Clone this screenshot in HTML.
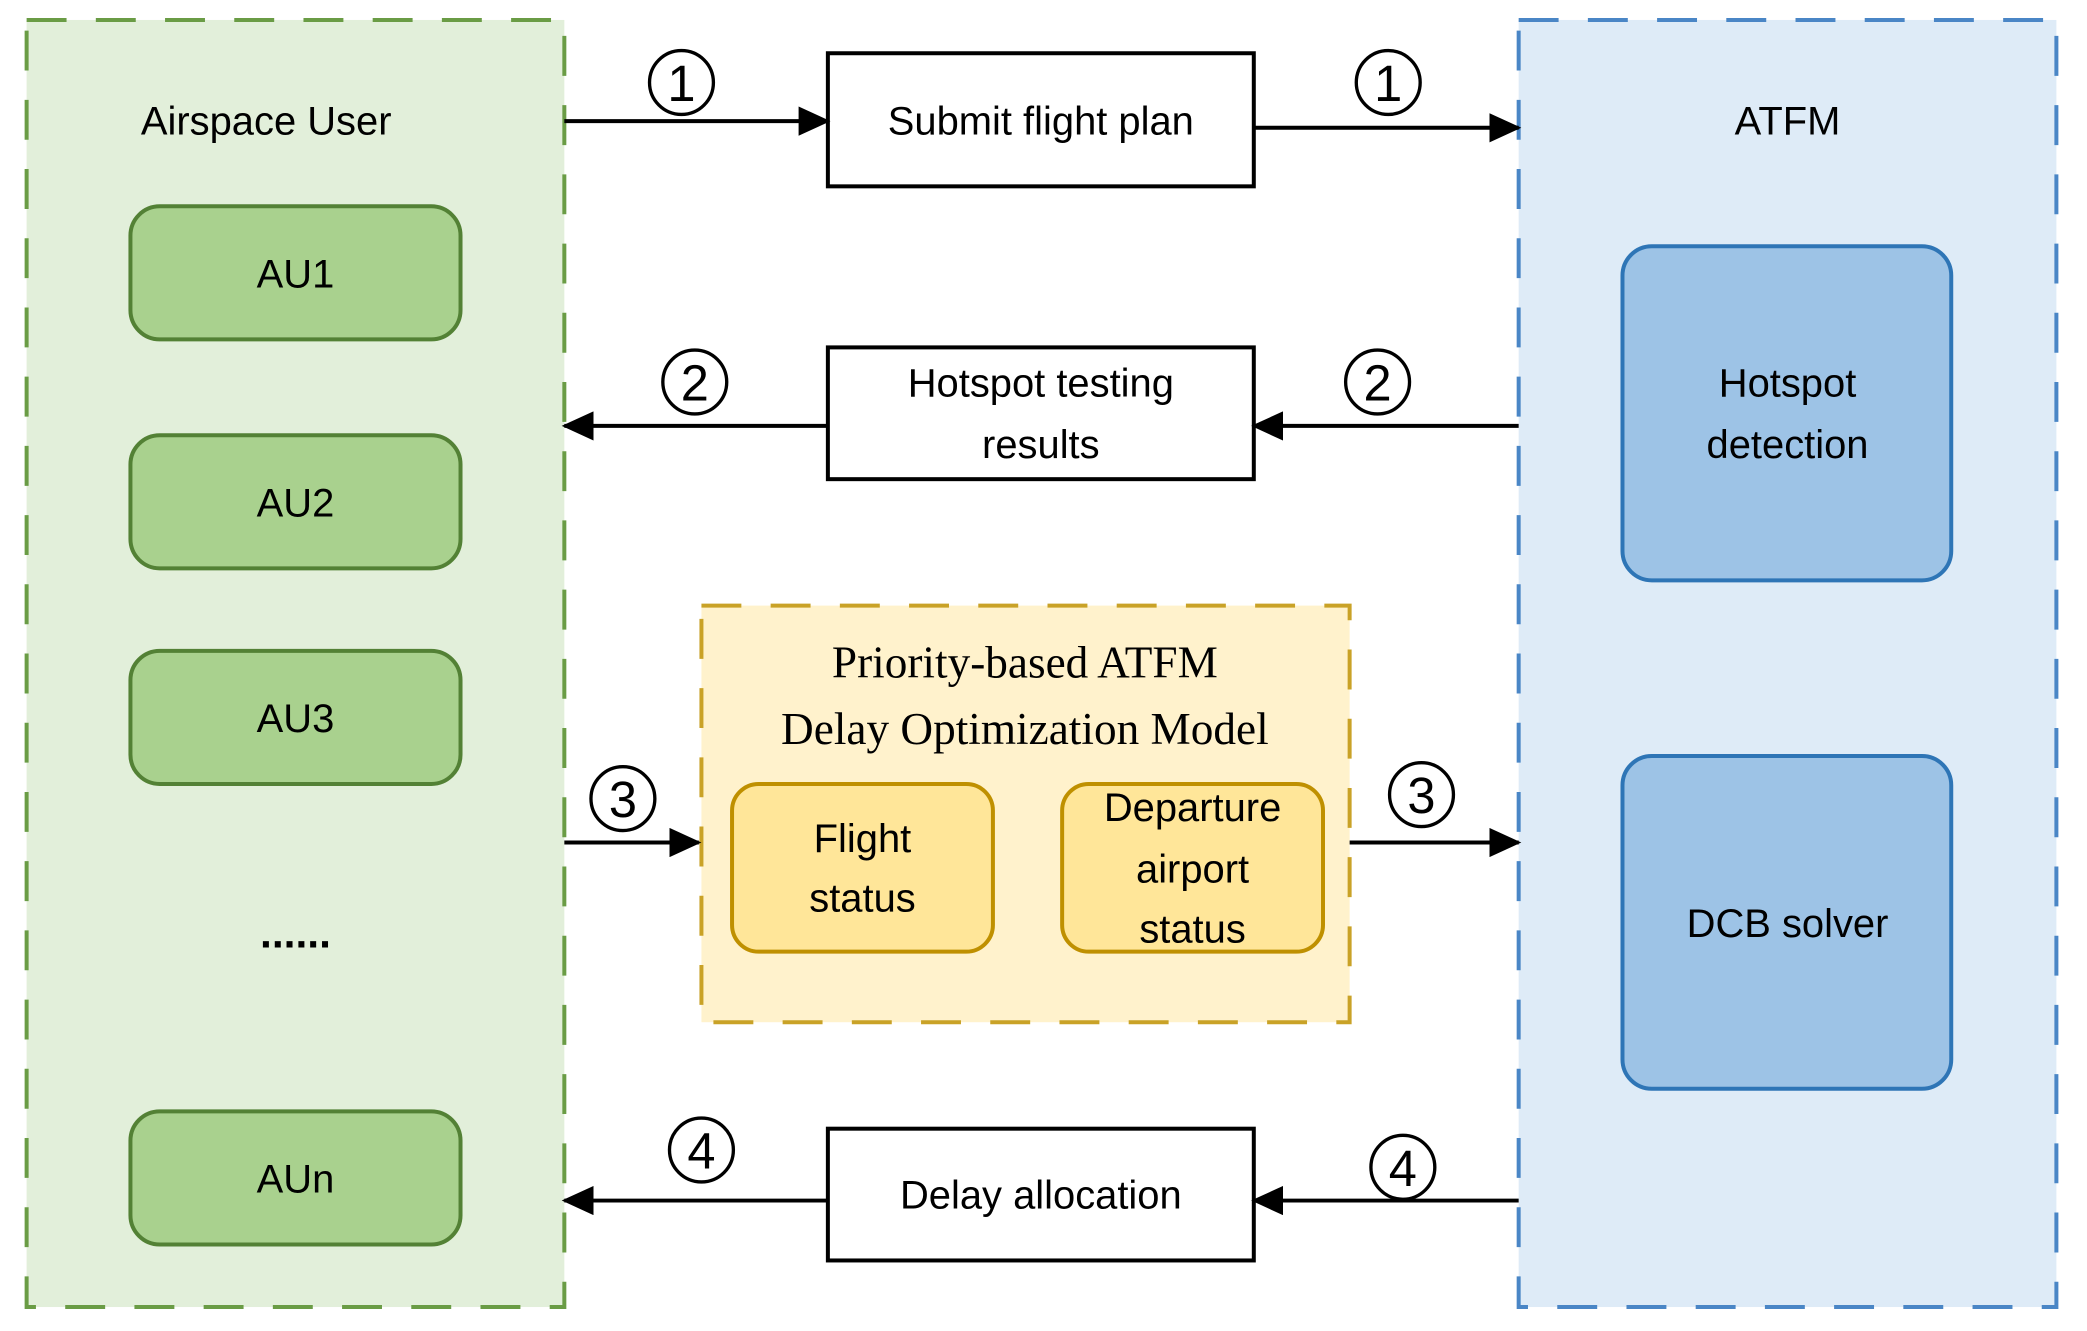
<!DOCTYPE html>
<html><head><meta charset="utf-8"><style>html,body{margin:0;padding:0;background:#fff}svg{display:block}</style></head>
<body>
<svg width="2087" height="1331" viewBox="0 0 1568 1000" preserveAspectRatio="none" xmlns="http://www.w3.org/2000/svg">
<defs>
<marker id="b" markerWidth="24" markerHeight="22" refX="22" refY="11" orient="auto" markerUnits="userSpaceOnUse"><path d="M0,0 L24,11 L0,22 z" fill="#000"/></marker></defs>
<g font-family="Liberation Sans, sans-serif" font-size="30" text-anchor="middle" fill="#000">
<rect x="20" y="15" width="404" height="967" fill="#e2efda" stroke="#6a9c45" stroke-width="3" stroke-dasharray="30,22"/>
<rect x="1141" y="15" width="404" height="967" fill="#deebf7" stroke="#4a86c6" stroke-width="3" stroke-dasharray="30,22"/>
<text x="200" y="101">Airspace User</text>
<text x="1343" y="101">ATFM</text>
<g fill="#a9d18e" stroke="#538135" stroke-width="3">
<rect x="98" y="155" width="248" height="100" rx="22"/>
<rect x="98" y="327" width="248" height="100" rx="22"/>
<rect x="98" y="489" width="248" height="100" rx="22"/>
<rect x="98" y="835" width="248" height="100" rx="22"/>
</g>
<text x="222" y="216">AU1</text><text x="222" y="388">AU2</text><text x="222" y="550">AU3</text><text x="222" y="896">AUn</text>
<text x="222" y="712" font-weight="bold" font-size="32">......</text>
<g fill="#9dc3e6" stroke="#2e75b6" stroke-width="3">
<rect x="1219" y="185" width="247" height="251" rx="22"/>
<rect x="1219" y="568" width="247" height="250" rx="22"/>
</g>
<text x="1343" y="298">Hotspot</text><text x="1343" y="344">detection</text>
<text x="1343" y="704">DCB solver</text>
<g fill="#fff" stroke="#000" stroke-width="3">
<rect x="622" y="40" width="320" height="100"/>
<rect x="622" y="261" width="320" height="99"/>
<rect x="622" y="848" width="320" height="99"/>
</g>
<text x="782" y="101">Submit flight plan</text>
<text x="782" y="298">Hotspot testing</text><text x="782" y="344">results</text>
<text x="782" y="908">Delay allocation</text>
<rect x="527" y="455" width="487" height="313" fill="#fff2cc" stroke="#c9a227" stroke-width="3" stroke-dasharray="30,22"/>
<text x="770" y="509" font-family="Liberation Serif, serif" font-size="34">Priority-based ATFM</text>
<text x="770" y="559" font-family="Liberation Serif, serif" font-size="34">Delay Optimization Model</text>
<g fill="#ffe699" stroke="#bf9000" stroke-width="3">
<rect x="550" y="589" width="196" height="126" rx="20"/>
<rect x="798" y="589" width="196" height="126" rx="20"/>
</g>
<text x="648" y="640">Flight</text><text x="648" y="685">status</text>
<text x="896" y="617">Departure</text><text x="896" y="663">airport</text><text x="896" y="708">status</text>
<g stroke="#000" stroke-width="3" fill="none">
<line x1="424" y1="91" x2="622" y2="91" marker-end="url(#b)"/>
<line x1="942" y1="96" x2="1141" y2="96" marker-end="url(#b)"/>
<line x1="1141" y1="320" x2="942" y2="320" marker-end="url(#b)"/>
<line x1="622" y1="320" x2="424" y2="320" marker-end="url(#b)"/>
<line x1="424" y1="633" x2="525" y2="633" marker-end="url(#b)"/>
<line x1="1014" y1="633" x2="1141" y2="633" marker-end="url(#b)"/>
<line x1="1141" y1="902" x2="942" y2="902" marker-end="url(#b)"/>
<line x1="622" y1="902" x2="424" y2="902" marker-end="url(#b)"/>
</g>
<g fill="none" stroke="#000" stroke-width="2.5">
<circle cx="512" cy="62" r="24"/><circle cx="1043" cy="62" r="24"/>
<circle cx="522" cy="287" r="24"/><circle cx="1035" cy="287" r="24"/>
<circle cx="468" cy="600" r="24"/><circle cx="1068" cy="597" r="24"/>
<circle cx="527" cy="864" r="24"/><circle cx="1054" cy="877" r="24"/>
</g>
<g font-size="38">
<text x="512" y="76">1</text><text x="1043" y="76">1</text>
<text x="522" y="301">2</text><text x="1035" y="301">2</text>
<text x="468" y="614">3</text><text x="1068" y="611">3</text>
<text x="527" y="878">4</text><text x="1054" y="891">4</text>
</g>
</g>
</svg>
</body></html>
